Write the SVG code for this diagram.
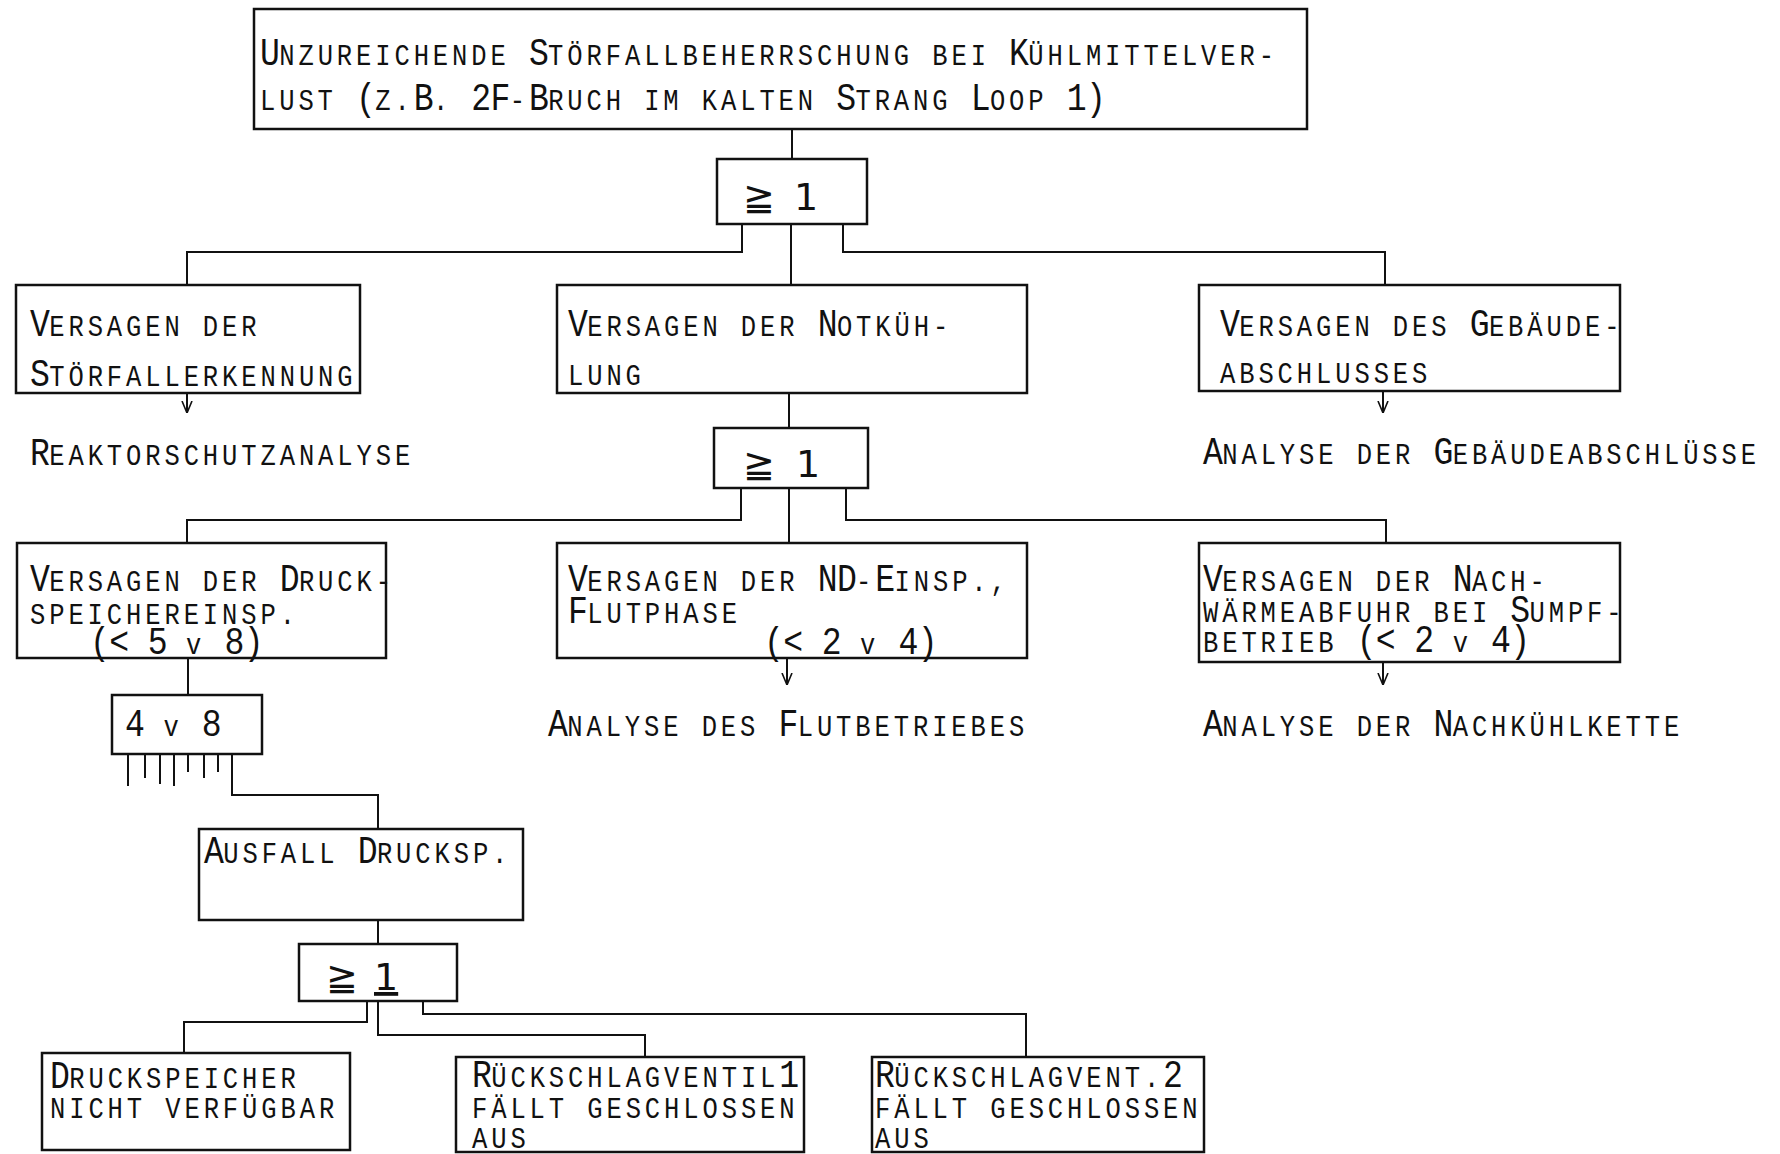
<svg xmlns="http://www.w3.org/2000/svg" width="1780" height="1154" viewBox="0 0 1780 1154">
  <style>
    .box { fill: #fff; stroke: #111; stroke-width: 2.5; }
    .wire { fill: none; stroke: #111; stroke-width: 2; }
    /* typewriter lettering: fixed pitch of about 19.2px, glyphs narrowed by scale(.85,1) */
    .t { font-family: 'Liberation Mono', 'DejaVu Sans Mono', monospace; font-size: 30px; letter-spacing: 4.6px; fill: #111; }
    .b { font-size: 39px; letter-spacing: -0.8px; }
    .g { font-family: 'DejaVu Sans', 'Liberation Sans', sans-serif; font-size: 38px; fill: #111; }
  </style>
  <defs>
    <marker id="arr" viewBox="0 0 12 12" refX="12" refY="6" markerWidth="12" markerHeight="12" markerUnits="userSpaceOnUse" orient="auto">
      <path d="M0,1 L12,6 L0,11" fill="none" stroke="#111" stroke-width="1.6"/>
    </marker>
  </defs>
  <rect width="1780" height="1154" fill="#fff"/>

  <!-- connectors -->
  <g id="connectors">
    <path class="wire" d="M792,129 V159"/>
    <path class="wire" d="M742,224 V252 H187 V285"/>
    <path class="wire" d="M791,224 V285"/>
    <path class="wire" d="M843,224 V252 H1385 V285"/>
    <path class="wire" d="M187,393 V413" marker-end="url(#arr)"/>
    <path class="wire" d="M1383,391 V413" marker-end="url(#arr)"/>
    <path class="wire" d="M789,393 V428"/>
    <path class="wire" d="M741,488 V520 H187 V543"/>
    <path class="wire" d="M789,488 V543"/>
    <path class="wire" d="M846,488 V520 H1386 V543"/>
    <path class="wire" d="M787,658 V685" marker-end="url(#arr)"/>
    <path class="wire" d="M1383,662 V685" marker-end="url(#arr)"/>
    <path class="wire" d="M188,658 V695"/>
    <!-- inputs of the 4-of-8 gate -->
    <path class="wire" d="M128,754 V786 M145,754 V778 M160,754 V784 M174,754 V786 M188,754 V772 M204,754 V778 M218,754 V772"/>
    <path class="wire" d="M232,754 V795 H378 V829"/>
    <path class="wire" d="M378,920 V944"/>
    <path class="wire" d="M367,1001 V1022 H184 V1053"/>
    <path class="wire" d="M378,1001 V1035 H645 V1057"/>
    <path class="wire" d="M423,1001 V1014 H1026 V1057"/>
  </g>

  <!-- top event -->
  <g id="top">
    <rect class="box" x="254" y="9" width="1053" height="120"/>
    <text class="t" transform="translate(260,65) scale(.85,1)"><tspan x="0" y="0"><tspan class="b">U</tspan>NZUREICHENDE <tspan class="b">S</tspan>TÖRFALLBEHERRSCHUNG BEI <tspan class="b">K</tspan>ÜHLMITTELVER-</tspan><tspan x="0" y="45">LUST <tspan class="b">(</tspan>Z.<tspan class="b">B</tspan>. <tspan class="b">2F</tspan>-<tspan class="b">B</tspan>RUCH IM KALTEN <tspan class="b">S</tspan>TRANG <tspan class="b">L</tspan>OOP <tspan class="b">1)</tspan></tspan></text>
  </g>

  <g id="gate1">
    <rect class="box" x="717" y="159" width="150" height="65"/>
    <text class="g" x="743" y="210">≧</text>
    <text class="g" x="794" y="210">1</text>
  </g>

  <g id="stoerfallerkennung">
    <rect class="box" x="16" y="285" width="344" height="108"/>
    <text class="t" transform="translate(30,336) scale(.85,1)"><tspan x="0" y="0"><tspan class="b">V</tspan>ERSAGEN DER</tspan><tspan x="0" y="50"><tspan class="b">S</tspan>TÖRFALLERKENNUNG</tspan></text>
  </g>
  <g id="reaktorschutz">
    <text class="t" transform="translate(30,465) scale(.85,1)"><tspan class="b">R</tspan>EAKTORSCHUTZANALYSE</text>
  </g>

  <g id="notkuehlung">
    <rect class="box" x="557" y="285" width="470" height="108"/>
    <text class="t" transform="translate(568,336) scale(.85,1)"><tspan x="0" y="0"><tspan class="b">V</tspan>ERSAGEN DER <tspan class="b">N</tspan>OTKÜH-</tspan><tspan x="0" y="49">LUNG</tspan></text>
  </g>

  <g id="gebaeudeabschluss">
    <rect class="box" x="1199" y="285" width="421" height="106"/>
    <text class="t" transform="translate(1220,336) scale(.85,1)"><tspan x="0" y="0"><tspan class="b">V</tspan>ERSAGEN DES <tspan class="b">G</tspan>EBÄUDE-</tspan><tspan x="0" y="47">ABSCHLUSSES</tspan></text>
  </g>
  <g id="analyse-gebaeude">
    <text class="t" transform="translate(1203,464) scale(.85,1)"><tspan class="b">A</tspan>NALYSE DER <tspan class="b">G</tspan>EBÄUDEABSCHLÜSSE</text>
  </g>

  <g id="gate2">
    <rect class="box" x="714" y="428" width="154" height="60"/>
    <text class="g" x="743" y="477">≧</text>
    <text class="g" x="796" y="477">1</text>
  </g>

  <g id="druckspeichereinsp">
    <rect class="box" x="17" y="543" width="369" height="115"/>
    <text class="t" transform="translate(30,591) scale(.85,1)"><tspan x="0" y="0"><tspan class="b">V</tspan>ERSAGEN DER <tspan class="b">D</tspan>RUCK-</tspan><tspan x="0" y="33">SPEICHEREINSP.</tspan><tspan x="70.6" y="63"><tspan class="b">(&lt; 5 </tspan>v <tspan class="b">8)</tspan></tspan></text>
  </g>

  <g id="nd-einsp">
    <rect class="box" x="557" y="543" width="470" height="115"/>
    <text class="t" transform="translate(568,591) scale(.85,1)"><tspan x="0" y="0"><tspan class="b">V</tspan>ERSAGEN DER <tspan class="b">ND</tspan>-<tspan class="b">E</tspan>INSP.,</tspan><tspan x="0" y="32"><tspan class="b">F</tspan>LUTPHASE</tspan><tspan x="230.6" y="63"><tspan class="b">(&lt; 2 </tspan>v <tspan class="b">4)</tspan></tspan></text>
  </g>
  <g id="analyse-flut">
    <text class="t" transform="translate(548,736) scale(.85,1)"><tspan class="b">A</tspan>NALYSE DES <tspan class="b">F</tspan>LUTBETRIEBES</text>
  </g>

  <g id="nachwaermeabfuhr">
    <rect class="box" x="1199" y="543" width="421" height="119"/>
    <text class="t" transform="translate(1203,591) scale(.85,1)"><tspan x="0" y="0"><tspan class="b">V</tspan>ERSAGEN DER <tspan class="b">N</tspan>ACH-</tspan><tspan x="0" y="31">WÄRMEABFUHR BEI <tspan class="b">S</tspan>UMPF-</tspan><tspan x="0" y="61">BETRIEB  <tspan class="b">(&lt; 2 </tspan>v <tspan class="b">4)</tspan></tspan></text>
  </g>
  <g id="analyse-nachkuehl">
    <text class="t" transform="translate(1203,736) scale(.85,1)"><tspan class="b">A</tspan>NALYSE DER <tspan class="b">N</tspan>ACHKÜHLKETTE</text>
  </g>

  <g id="gate-4v8">
    <rect class="box" x="112" y="695" width="150" height="59"/>
    <text class="t" transform="translate(125,736) scale(.85,1)"><tspan class="b">4</tspan> v <tspan class="b">8</tspan></text>
  </g>

  <g id="ausfall-drucksp">
    <rect class="box" x="199" y="829" width="324" height="91"/>
    <text class="t" transform="translate(204,863) scale(.85,1)"><tspan class="b">A</tspan>USFALL <tspan class="b">D</tspan>RUCKSP.</text>
  </g>

  <g id="gate3">
    <rect class="box" x="299" y="944" width="158" height="57"/>
    <text class="g" x="326" y="990">≧</text>
    <text class="g" x="374" y="990" text-decoration="underline">1</text>
  </g>

  <g id="druckspeicher-nv">
    <rect class="box" x="42" y="1053" width="308" height="97"/>
    <text class="t" transform="translate(50,1088) scale(.85,1)"><tspan x="0" y="0"><tspan class="b">D</tspan>RUCKSPEICHER</tspan><tspan x="0" y="30">NICHT VERFÜGBAR</tspan></text>
  </g>

  <g id="rsv1">
    <rect class="box" x="456" y="1057" width="348" height="95"/>
    <text class="t" transform="translate(472,1087) scale(.85,1)"><tspan x="0" y="0"><tspan class="b">R</tspan>ÜCKSCHLAGVENTIL<tspan class="b">1</tspan></tspan><tspan x="0" y="31">FÄLLT GESCHLOSSEN</tspan><tspan x="0" y="61">AUS</tspan></text>
  </g>

  <g id="rsv2">
    <rect class="box" x="872" y="1057" width="332" height="95"/>
    <text class="t" transform="translate(875,1087) scale(.85,1)"><tspan x="0" y="0"><tspan class="b">R</tspan>ÜCKSCHLAGVENT.<tspan class="b">2</tspan></tspan><tspan x="0" y="31">FÄLLT GESCHLOSSEN</tspan><tspan x="0" y="61">AUS</tspan></text>
  </g>
</svg>
